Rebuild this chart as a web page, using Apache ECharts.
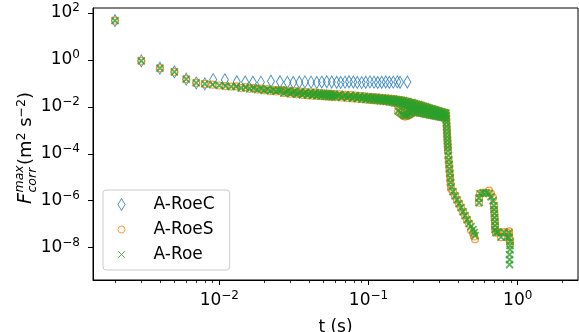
<!DOCTYPE html>
<html><head><meta charset="utf-8">
<script src="https://cdn.jsdelivr.net/npm/echarts@6/dist/echarts.min.js"></script>
<style>html,body{margin:0;padding:0;background:#fff}#c{width:579px;height:332px}</style>
</head><body><div id="c"></div>
<script>
// ---- data ----
const seriesNames = ['A-RoeC', 'A-RoeS', 'A-Roe'];

// A-RoeC (blue diamonds)
const tRoeC = [0.002,0.003,0.004,0.005,0.006,0.007,0.008,
  0.0091,0.0109,0.0131,0.0149,0.0168,0.0190,0.0222,0.0255,0.0286,0.0313,
  0.0344,0.0375,0.0412,0.0450,0.0486,0.0525,0.0567,0.0612,0.0651,0.0696,
  0.0740,0.0791,0.0841,0.0900,0.0958,0.1023,0.1089,0.1153,0.1226,0.1304,
  0.1378,0.1466,0.1560,0.1626,0.182];
const fRoeC = [47.0,0.91,0.444,0.308,0.151,0.105,0.0953,
  0.145,0.142,0.118,0.115,0.112,0.113,0.124,0.118,0.111,0.110,
  0.112,0.116,0.113,0.109,0.114,0.118,0.115,0.112,0.110,0.113,
  0.117,0.114,0.110,0.108,0.112,0.116,0.113,0.109,0.112,0.115,
  0.111,0.113,0.116,0.112,0.114];

// common band of A-RoeS and A-Roe (t < 0.33 s)
const tBandMain = [0.002,0.003,0.004,0.005,0.006,0.007,0.008,0.009,0.010,0.011,0.012,
  0.013,0.014,0.015,0.016,0.017,0.018,0.019,0.020,0.021,0.022,0.023,0.024,0.025,
  0.026,0.027,0.028,0.029,0.030,0.031,0.032,0.033,0.034,0.035,0.036,0.037,0.038,0.039,0.040,
  0.041,0.042,0.043,0.044,0.045,0.046,0.047,0.048,0.049,0.050,0.051,0.052,0.053,0.054,0.055,
  0.056,0.057,0.058,0.059,0.060,
  0.062,0.064,0.066,0.068,0.070,0.072,0.074,0.076,0.078,0.080,
  0.082,0.084,0.086,0.088,0.090,0.092,0.094,0.096,0.098,0.100,
  0.102,0.104,0.106,0.108,0.110,0.112,0.114,0.116,0.118,0.120,
  0.122,0.124,0.126,0.128,0.130,0.132,0.134,0.136,0.138,0.140,
  0.142,0.144,0.146,0.148,0.150,0.152,0.154,0.156,0.158,0.160,
  0.162,0.164,0.166,0.168,0.170,0.172,0.174,0.176,0.178,0.180,
  0.182,0.184,0.186,0.188,0.190,0.192,0.194,0.196,0.198,0.200,
  0.2025,0.2050,0.2075,0.2100,0.2125,0.2150,0.2175,0.2200,0.2225,0.2250,0.2275,0.2300,0.2325,
  0.2350,0.2375,0.2400,0.2425,0.2450,0.2475,0.2500,0.2525,0.2550,0.2575,0.2600,0.2625,0.2650,
  0.2675,0.2700,0.2725,0.2750,0.2775,0.2800,0.2825,0.2850,0.2875,0.2900,0.2925,0.2950,0.2975,
  0.3000,0.3025,0.3050,0.3075,0.3100,0.3125,0.3150,0.3175,0.3200,0.3225,0.3250,0.3275,0.3300];
const fBandMain = [47.0,0.91,0.444,0.308,0.151,0.105,0.0953,0.0881,0.0815,0.0767,0.0731,
  0.0752,0.0630,0.0695,0.0585,0.0646,0.0543,0.0603,0.0507,0.0565,0.0478,0.0533,0.0452,0.0506,
  0.0533,0.0388,0.0439,0.0498,0.0362,0.0411,0.0468,0.0341,0.0388,0.0443,0.0325,0.0372,0.0427,0.0314,0.0360,
  0.0413,0.0304,0.0349,0.0401,0.0295,0.0339,0.0389,0.0287,0.0330,0.0379,0.0280,0.0321,0.0370,0.0273,0.0314,
  0.0361,0.0267,0.0307,0.0352,0.0261,
  0.0298,0.0340,0.0250,0.0286,0.0327,0.0241,0.0276,0.0316,0.0232,0.0265,
  0.0303,0.0222,0.0254,0.0290,0.0214,0.0244,0.0280,0.0206,0.0236,0.0270,
  0.0199,0.0228,0.0262,0.0193,0.0221,0.0254,0.0187,0.0214,0.0246,0.0182,
  0.0208,0.0239,0.0177,0.0203,0.0233,0.0172,0.0197,0.0225,0.0165,0.0189,
  0.0221,0.0155,0.0182,0.0213,0.0149,0.0175,0.0205,0.0143,0.0168,0.0197,
  0.0135,0.0160,0.0189,0.0124,0.0146,0.0183,0.0107,0.0134,0.0168,9.84e-3,
  0.0123,0.0166,8.45e-3,0.0114,0.0153,7.82e-3,0.0105,0.0150,6.82e-3,9.75e-3,
  0.0141,6.07e-3,8.97e-3,0.0132,5.81e-3,8.49e-3,0.0123,5.57e-3,8.04e-3,0.0115,5.35e-3,7.60e-3,0.0107,
  5.13e-3,7.23e-3,0.0101,4.93e-3,6.87e-3,9.48e-3,4.75e-3,6.55e-3,8.93e-3,4.59e-3,6.25e-3,8.43e-3,4.43e-3,
  5.97e-3,7.98e-3,4.29e-3,5.71e-3,7.55e-3,4.15e-3,5.47e-3,7.16e-3,4.01e-3,5.24e-3,6.79e-3,3.88e-3,5.04e-3,
  6.47e-3,3.77e-3,4.83e-3,6.15e-3,3.66e-3,4.65e-3,5.87e-3,3.55e-3,4.48e-3,5.64e-3,3.42e-3,4.31e-3,5.43e-3];

// dip, drops and hooks, where the two schemes separate slightly
const tTail = [0.158,0.163,0.168,0.172,0.1755,0.180,0.184,0.189,0.193,0.201,
  0.331,0.332,0.333,0.334,0.335,0.336,0.337,0.338,0.339,0.340,0.341,0.343,0.345,0.347,0.349,0.351,0.353,0.355,0.358,
  0.3685,0.380,0.392,0.4043,0.417,0.430,0.4436,0.4574,0.4717,0.4864,0.5017,0.5094,0.5175,
  0.5502,0.5502,0.5588,0.5853,0.6130,0.6421,0.6622,0.6830,
  0.6936,0.6936,0.6990,0.6990,0.7044,0.7044,0.7044,0.7155,
  0.7379,0.7729,0.8095,0.8479,0.8745,0.8745,0.8882,0.8882,0.8882,0.8813,0.8813,0.8813];
const fTailRoe = [6.76e-3,5.8e-3,5.04e-3,4.5e-3,4.14e-3,4.3e-3,4.57e-3,5.0e-3,5.56e-3,6.12e-3,
  4.14e-3,2.94e-3,2.08e-3,1.48e-3,1.05e-3,7.45e-4,5.28e-4,3.75e-4,2.67e-4,1.89e-4,1.34e-4,8.63e-5,5.56e-5,3.57e-5,2.30e-5,1.48e-5,9.53e-6,6.12e-6,3.94e-6,
  2.42e-6,1.63e-6,1.10e-6,7.45e-7,5.04e-7,3.40e-7,2.30e-7,1.55e-7,1.05e-7,7.83e-8,5.83e-8,4.35e-8,3.24e-8,
  8.22e-7,1.34e-6,1.99e-6,2.19e-6,2.19e-6,1.99e-6,1.48e-6,1.00e-6,
  6.12e-7,4.14e-7,2.80e-7,1.89e-7,1.28e-7,8.63e-8,5.83e-8,4.35e-8,
  4.57e-8,2.80e-8,4.57e-8,2.80e-8,4.35e-8,2.67e-8,1.80e-8,1.22e-8,8.22e-9,5.04e-9,3.08e-9,1.89e-9];
const fTailRoeS = [6.29e-3,5.39e-3,4.69e-3,4.19e-3,3.85e-3,4.0e-3,4.25e-3,4.65e-3,5.17e-3,5.69e-3,
  4.14e-3,2.94e-3,2.08e-3,1.48e-3,1.05e-3,7.45e-4,5.28e-4,3.75e-4,2.67e-4,1.89e-4,1.34e-4,7.0e-5,4.5e-5,2.9e-5,1.86e-5,1.2e-5,7.7e-6,4.96e-6,3.19e-6,
  2.42e-6,1.63e-6,1.10e-6,7.45e-7,5.04e-7,3.40e-7,2.30e-7,1.55e-7,1.05e-7,5.5e-8,4.1e-8,3.0e-8,2.3e-8,
  8.22e-7,1.34e-6,1.99e-6,2.19e-6,2.19e-6,2.7e-6,2.0e-6,1.35e-6,
  6.12e-7,4.14e-7,2.80e-7,1.89e-7,1.28e-7,8.63e-8,5.83e-8,4.35e-8,
  4.57e-8,2.80e-8,4.57e-8,4.4e-8,5.0e-8,3.6e-8,2.2e-8,1.5e-8,null,null,null,null];

const xMajorTicks = [0.01, 0.1, 1];
const xMinorTicks = [0.002,0.003,0.004,0.005,0.006,0.007,0.008,0.009,
  0.02,0.03,0.04,0.05,0.06,0.07,0.08,0.09,0.2,0.3,0.4,0.5,0.6,0.7,0.8,0.9,2];
const yMajorTicks = [1e-8, 1e-6, 1e-4, 1e-2, 1, 100];
const xRange = [1.424e-3, 2.535];
const yRange = [4.2e-10, 163];

// ---- chart ----
const FONT = 'DejaVu Sans';
const BLACK = '#000000';
const pairs = (ts, fs) => ts.map((t, i) => [t, fs[i] == null ? '-' : fs[i]]);
function powLabel(v) {
  const e = Math.round(Math.log10(v));
  return '{b|10}{s|' + (e < 0 ? '\u2212' : '') + Math.abs(e) + '}';
}
const tickRich = {
  b: {fontSize: 17, lineHeight: 22, fontFamily: FONT, color: BLACK},
  s: {fontSize: 12, lineHeight: 22, fontFamily: FONT, color: BLACK, verticalAlign: 'top'}
};
const DIAMOND = 'path://M3.5,0L7,6L3.5,12L0,6Z';
const XMARK = 'path://M0,0L10,10M10,0L0,10';
const CIRCLE_ICON = 'path://M0,0M12,12M9.5,6A3.5,3.5,0,1,1,2.5,6A3.5,3.5,0,1,1,9.5,6Z';
const X_ICON = 'path://M0,0M12,12M2.75,2.75L9.25,9.25M9.25,2.75L2.75,9.25';

const chart = echarts.init(document.getElementById('c'), null, {renderer: 'canvas'});
const option = {
  animation: false,
  backgroundColor: '#ffffff',
  grid: {left: 93, right: 1, top: 8, bottom: 52, show: true, borderColor: BLACK, borderWidth: 1,
    containLabel: false, outerBoundsMode: 'none'},
  xAxis: [{
    type: 'log', logBase: 10, min: xRange[0], max: xRange[1], position: 'bottom',
    axisLine: {show: true, onZero: false, lineStyle: {color: BLACK, width: 1}},
    axisTick: {show: true, length: 5, lineStyle: {color: BLACK, width: 1}, customValues: xMajorTicks},
    axisLabel: {show: true, margin: 9.5, customValues: xMajorTicks, formatter: powLabel, rich: tickRich},
    splitLine: {show: false}, minorTick: {show: false},
    name: 't (s)', nameLocation: 'middle', nameGap: 39,
    nameTextStyle: {fontSize: 17, fontFamily: FONT, color: BLACK}
  }, {
    type: 'log', logBase: 10, min: xRange[0], max: xRange[1], position: 'bottom', offset: 0,
    axisLine: {show: false},
    axisTick: {show: true, length: 3, lineStyle: {color: BLACK, width: 0.8}, customValues: xMinorTicks},
    axisLabel: {show: false}, splitLine: {show: false}
  }],
  yAxis: {
    type: 'log', logBase: 10, min: yRange[0], max: yRange[1],
    axisLine: {show: true, onZero: false, lineStyle: {color: BLACK, width: 1}},
    axisTick: {show: true, length: 5, lineStyle: {color: BLACK, width: 1}, customValues: yMajorTicks},
    axisLabel: {show: true, margin: 13, customValues: yMajorTicks, formatter: powLabel, rich: tickRich},
    splitLine: {show: false}, minorTick: {show: false}
  },
  legend: {
    show: true, orient: 'vertical', left: 103, top: 190,
    itemWidth: 22, itemHeight: 12, itemGap: 8,
    padding: [6, 15, 7, 12],
    backgroundColor: 'rgba(255,255,255,0.8)', borderColor: '#cccccc', borderWidth: 1, borderRadius: 3,
    selectedMode: false,
    itemStyle: {borderWidth: 1},
    textStyle: {fontSize: 17, fontFamily: FONT, color: BLACK, padding: [0, 0, 0, 16]},
    data: [
      {name: seriesNames[0], icon: DIAMOND},
      {name: seriesNames[1], icon: CIRCLE_ICON},
      {name: seriesNames[2], icon: X_ICON}
    ]
  },
  series: [{
    name: seriesNames[0], type: 'scatter', xAxisIndex: 0, yAxisIndex: 0,
    data: pairs(tRoeC, fRoeC), symbol: DIAMOND, symbolSize: [7, 12],
    itemStyle: {color: 'transparent', borderColor: '#1f77b4', borderWidth: 1}, silent: true
  }, {
    name: seriesNames[1], type: 'scatter', xAxisIndex: 0, yAxisIndex: 0,
    data: pairs(tBandMain, fBandMain).concat(pairs(tTail, fTailRoeS)), symbol: 'circle', symbolSize: 7,
    itemStyle: {color: 'transparent', borderColor: '#ff7f0e', borderWidth: 1.2}, silent: true
  }, {
    name: seriesNames[2], type: 'scatter', xAxisIndex: 0, yAxisIndex: 0,
    data: pairs(tBandMain, fBandMain).concat(pairs(tTail, fTailRoe)), symbol: XMARK, symbolSize: 7,
    itemStyle: {color: 'transparent', borderColor: '#2ca02c', borderWidth: 1.8}, silent: true
  }],
  graphic: [{
    type: 'group', x: 33, y: 204, rotation: Math.PI / 2, silent: true,
    children: [
      {type: 'text', x: 0, y: -6.6, style: {text: 'F', fontSize: 19, fontStyle: 'italic', fontFamily: FONT, fill: BLACK, align: 'left', verticalAlign: 'middle'}},
      {type: 'text', x: 11.5, y: -13, style: {text: 'max', fontSize: 12.5, fontStyle: 'italic', fontFamily: FONT, fill: BLACK, align: 'left', verticalAlign: 'middle'}},
      {type: 'text', x: 11.5, y: -0.3, style: {text: 'corr', fontSize: 12.5, fontStyle: 'italic', fontFamily: FONT, fill: BLACK, align: 'left', verticalAlign: 'middle'}},
      {type: 'text', x: 39, y: -6.2, style: {text: '(m{s|2} s{s|\u22122})', fontSize: 18, lineHeight: 23, fontFamily: FONT, fill: BLACK, align: 'left', verticalAlign: 'middle',
        rich: {s: {fontSize: 12.5, lineHeight: 23, fontFamily: FONT, fill: BLACK, verticalAlign: 'top'}}}}
    ]
  }]
};
chart.setOption(option);
</script>
</body></html>
